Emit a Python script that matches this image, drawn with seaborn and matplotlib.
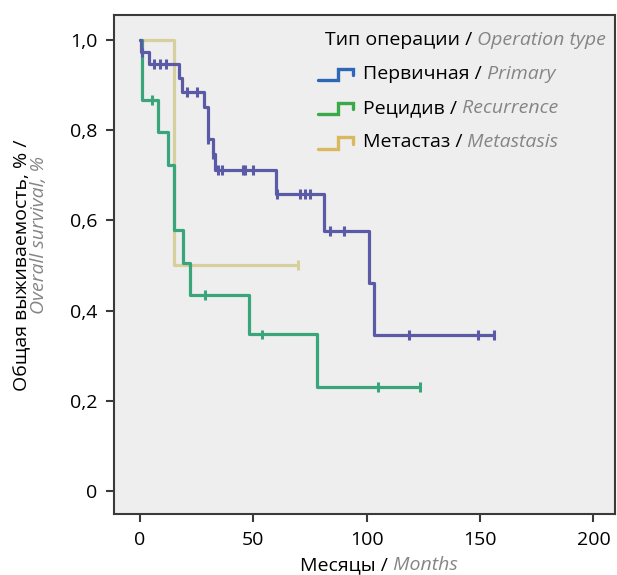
import matplotlib
matplotlib.use("Agg")
import matplotlib.pyplot as plt
import seaborn as sns
import pandas as pd

# Kaplan–Meier survival by operation type (step-post: time of change, survival after it)
groups = ["Первичная", "Рецидив", "Метастаз"]
groups_en = ["Primary", "Recurrence", "Metastasis"]

primary_time = [0, 0.5, 4, 17, 18.5, 28, 30, 32, 33, 60, 81, 101, 103, 156]
primary_surv = [1.0, 0.972, 0.946, 0.915, 0.884, 0.850, 0.781, 0.747, 0.712,
                0.658, 0.576, 0.460, 0.345, 0.345]
primary_cens_time = [1, 6, 9, 11.5, 20.5, 25, 30, 32, 34.5, 36, 45.6, 46.3, 50,
                     60.6, 70.6, 72.8, 75, 84, 90, 118.5, 149, 156]
primary_cens_surv = [0.972, 0.946, 0.946, 0.946, 0.884, 0.884, 0.781, 0.747,
                     0.712, 0.712, 0.712, 0.712, 0.712, 0.658, 0.658, 0.658,
                     0.658, 0.576, 0.576, 0.345, 0.345, 0.345]

recur_time = [0, 1, 8, 12.5, 15, 19, 22, 48, 78, 123.5]
recur_surv = [1.0, 0.867, 0.795, 0.722, 0.578, 0.506, 0.434, 0.347, 0.231, 0.231]
recur_cens_time = [5.4, 28.7, 54, 105, 123.5]
recur_cens_surv = [0.867, 0.434, 0.347, 0.231, 0.231]

meta_time = [0, 15, 69.5]
meta_surv = [1.0, 0.5, 0.5]
meta_cens_time = [69.5]
meta_cens_surv = [0.5]

x_ticks = [0, 50, 100, 150, 200]
y_ticks = [0, 0.2, 0.4, 0.6, 0.8, 1.0]
y_tick_labels = ["0", "0,2", "0,4", "0,6", "0,8", "1,0"]

line_colors = {"Первичная": "#5a5aa6", "Рецидив": "#38a67a", "Метастаз": "#d6cf9e"}
legend_colors = {"Первичная": "#2f67b8", "Рецидив": "#3aaa48", "Метастаз": "#d9b862"}

curves = pd.concat([
    pd.DataFrame({"group": g, "time": t, "surv": s})
    for g, t, s in [("Метастаз", meta_time, meta_surv),
                    ("Рецидив", recur_time, recur_surv),
                    ("Первичная", primary_time, primary_surv)]
], ignore_index=True)
censored = pd.concat([
    pd.DataFrame({"group": g, "time": t, "surv": s})
    for g, t, s in [("Метастаз", meta_cens_time, meta_cens_surv),
                    ("Рецидив", recur_cens_time, recur_cens_surv),
                    ("Первичная", primary_cens_time, primary_cens_surv)]
], ignore_index=True)

sns.set_theme(style="ticks")
plt.rcParams["font.family"] = ["Open Sans", "DejaVu Sans"]

W, H = 617, 575
fig = plt.figure(figsize=(W / 100, H / 100), dpi=100)
ax = fig.add_axes([114 / W, 1 - 514 / H, 501 / W, 499 / H])
ax.set_facecolor("#eeeeee")

sns.lineplot(data=curves, x="time", y="surv", hue="group", palette=line_colors,
             estimator=None, sort=False, drawstyle="steps-post", linewidth=2.3,
             legend=False, ax=ax)
sns.scatterplot(data=censored, x="time", y="surv", hue="group", palette=line_colors,
                marker="|", s=50, linewidth=2.2, legend=False, ax=ax, zorder=3)

ax.set_xlim(-11.5, 209.5)
ax.set_ylim(-0.051, 1.055)
ax.set_xticks(x_ticks)
ax.set_xticklabels([str(v) for v in x_ticks])
ax.set_yticks(y_ticks)
ax.set_yticklabels(y_tick_labels)
ax.set_xlabel("")
ax.set_ylabel("")
for sp in ax.spines.values():
    sp.set_visible(True)
    sp.set_color("#3a3a3a")
    sp.set_linewidth(1.5)

FS = 14
GRAY = "#858585"
ax.tick_params(direction="out", length=6, width=1.5, color="#3a3a3a",
               labelsize=FS, labelcolor="black", pad=6)

# Legend: title and step-shaped keys
t1 = ax.text(0.421, 0.950, "Тип операции /", transform=ax.transAxes,
             fontsize=FS, color="black", va="center", ha="left")
ax.annotate(" Operation type", xy=(1, 0), xycoords=t1, va="bottom", ha="left",
            fontsize=FS, color=GRAY, style="italic")
rows_y = [0.882, 0.814, 0.745]
for g, ge, ry in zip(groups, groups_en, rows_y):
    lo = ry - 6.5 / 499
    hi = ry + 5 / 499
    xs = [0.407, 0.447, 0.447, 0.477, 0.477]
    ys = [lo, lo, hi, hi, ry - 1.5 / 499]
    ax.plot(xs, ys, transform=ax.transAxes, color=legend_colors[g], lw=2.4,
            solid_joinstyle="miter", clip_on=False)
    tr = ax.text(0.497, ry, g + " /", transform=ax.transAxes, fontsize=FS,
                 color="black", va="center", ha="left")
    ax.annotate(" " + ge, xy=(1, 0), xycoords=tr, va="bottom", ha="left",
                fontsize=FS, color=GRAY, style="italic")

# Axis titles
tx = fig.text(300 / W, 1 - 565 / H, "Месяцы /", fontsize=FS, color="black",
              va="center", ha="left")
ax.annotate(" Months", xy=(1, 0), xycoords=tx, va="bottom", ha="left",
            fontsize=FS, color=GRAY, style="italic", annotation_clip=False)

fig.text(22 / W, 1 - 265 / H, "Общая выживаемость, % /", rotation=90,
         fontsize=FS, color="black", va="center", ha="center")
fig.text(39 / W, 1 - 235 / H, "Overall survival, %", rotation=90,
         fontsize=FS, color=GRAY, style="italic", va="center", ha="center")

fig.savefig("out.png", dpi=100, facecolor="white")
